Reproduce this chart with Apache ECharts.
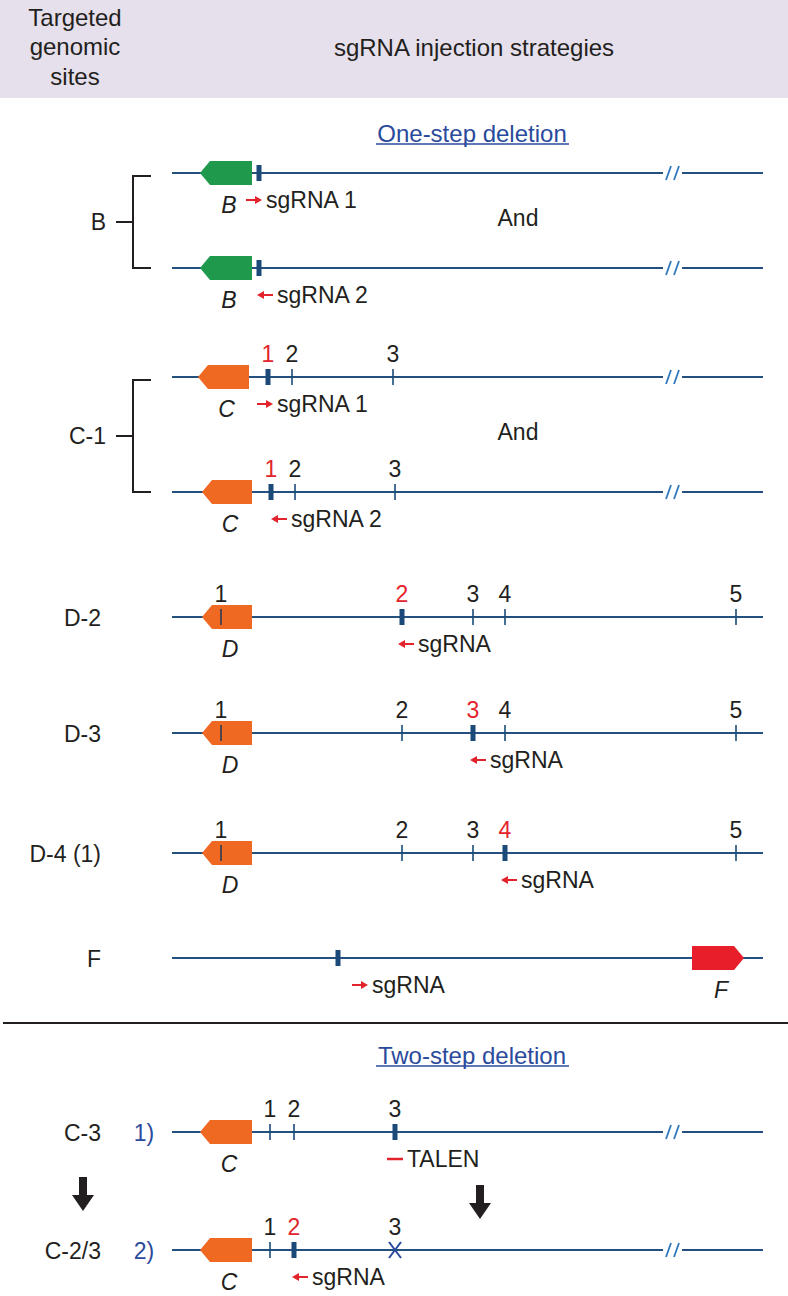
<!DOCTYPE html>
<html><head><meta charset="utf-8">
<script src="https://cdn.jsdelivr.net/npm/echarts@6/dist/echarts.min.js"></script>
<style>html,body{margin:0;padding:0;background:#fff}#c{width:788px;height:1296px}</style>
</head><body><div id="c"></div>
<script>
// ---------- data ----------
const headerLeft = ['Targeted', 'genomic', 'sites'];
const headerRight = 'sgRNA injection strategies';
const sectionTitles = ['One-step deletion', 'Two-step deletion'];
const sectionY = [133, 1055];

const rowY = [173, 268, 377, 492, 617, 733, 853, 958, 1132, 1250];
const rowBreak = [true, true, true, true, false, false, false, false, true, true];
const geneName = ['B', 'B', 'C', 'C', 'D', 'D', 'D', 'F', 'C', 'C'];
const geneLeft = [200, 200, 198, 202, 202, 202, 202, 692, 200, 200];
const geneRight = [252, 252, 249, 252, 252, 252, 252, 744, 252, 252];
const genePointsLeft = [true, true, true, true, true, true, true, false, true, true];
const siteX = [
  [259], [259],
  [268, 292, 393], [271, 295, 395],
  [221, 402, 473, 505, 736], [221, 402, 473, 505, 736], [221, 402, 473, 505, 736],
  [338],
  [270, 294, 395], [270, 294, 395]
];
const siteLabels = [
  [], [],
  ['1', '2', '3'], ['1', '2', '3'],
  ['1', '2', '3', '4', '5'], ['1', '2', '3', '4', '5'], ['1', '2', '3', '4', '5'],
  [],
  ['1', '2', '3'], ['1', '2', '3']
];
const targetIdx = [0, 0, 0, 0, 1, 2, 3, 0, 2, 1];
const targetRed = [true, true, true, true, true, true, true, true, false, true];
const deletedSite = [-1, -1, -1, -1, -1, -1, -1, -1, -1, 2];
const guideText = ['sgRNA 1', 'sgRNA 2', 'sgRNA 1', 'sgRNA 2', 'sgRNA', 'sgRNA', 'sgRNA', 'sgRNA', 'TALEN', 'sgRNA'];
const guideDir = ['right', 'left', 'right', 'left', 'left', 'left', 'left', 'right', 'dash', 'left'];
const guideX = [246, 257, 257, 271, 398, 470, 501, 352, 387, 292];

const groupLabels = ['B', 'C-1', 'D-2', 'D-3', 'D-4 (1)', 'F', 'C-3', 'C-2/3'];
const groupRows = [[0, 1], [2, 3], [4], [5], [6], [7], [8], [9]];
const bracketGroups = [0, 1];
const stepLabels = ['1)', '2)'];
const stepRows = [8, 9];
const andRows = [[0, 1], [2, 3]];

// ---------- styles ----------
const FONT = '"Liberation Sans", Arial, Helvetica, sans-serif';
const C_LINE = '#24507f';
const C_SITE = '#1b4a78';
const C_RED = '#e3232b';
const C_BLUE = '#2a4a9c';
const C_BREAK = '#2f77bd';
const C_TEXT = '#231f20';
const GENE_COLOR = {B: '#1f9a4c', C: '#ef6923', D: '#ef6923', F: '#e81f2a'};
const LINE_START = 172, LINE_END = 763, BREAK_X = 672;

function txt(p, s, opt) {
  return {
    type: 'text',
    style: Object.assign({
      x: p[0], y: p[1], text: s, fill: C_TEXT,
      font: '23px ' + FONT, align: 'center', verticalAlign: 'middle'
    }, opt || {})
  };
}
function seg(a, b, color, w) {
  return {type: 'line', shape: {x1: a[0], y1: a[1], x2: b[0], y2: b[1]},
    style: {stroke: color, lineWidth: w, lineCap: 'butt'}};
}

function renderRow(params, api) {
  const i = params.dataIndex;
  const y = rowY[i];
  const P = (x, yy) => api.coord([x, yy]);
  const ch = [];
  // backbone
  if (rowBreak[i]) {
    ch.push(seg(P(LINE_START, y), P(BREAK_X - 9, y), C_LINE, 2));
    ch.push(seg(P(BREAK_X + 10, y), P(LINE_END, y), C_LINE, 2));
    ch.push(seg(P(BREAK_X - 6, y + 7), P(BREAK_X - 1, y - 7), C_BREAK, 1.8));
    ch.push(seg(P(BREAK_X + 2, y + 7), P(BREAK_X + 7, y - 7), C_BREAK, 1.8));
  } else {
    ch.push(seg(P(LINE_START, y), P(LINE_END, y), C_LINE, 2));
  }
  // gene
  const gl = geneLeft[i], gr = geneRight[i], h = 12, tip = 10;
  let pts;
  if (genePointsLeft[i]) {
    pts = [P(gl, y), P(gl + tip, y - h), P(gr, y - h), P(gr, y + h), P(gl + tip, y + h)];
  } else {
    pts = [P(gl, y - h), P(gr - tip, y - h), P(gr, y), P(gr - tip, y + h), P(gl, y + h)];
  }
  ch.push({type: 'polygon', shape: {points: pts}, style: {fill: GENE_COLOR[geneName[i]]}});
  ch.push(txt(P((gl + gr) / 2 + 3, y + 32), geneName[i], {font: 'italic 23px ' + FONT}));
  // sites
  siteX[i].forEach((sx, k) => {
    const isT = k === targetIdx[i];
    if (k === deletedSite[i]) {
      ch.push(seg(P(sx - 6, y - 8), P(sx + 6, y + 8), C_BLUE, 2));
      ch.push(seg(P(sx + 6, y - 8), P(sx - 6, y + 8), C_BLUE, 2));
    } else if (isT) {
      ch.push(seg(P(sx, y - 8), P(sx, y + 8), C_SITE, 5));
    } else {
      const inGene = sx > gl && sx < gr;
      ch.push(seg(P(sx, y - 8), P(sx, y + 8), inGene ? '#2e3a52' : C_SITE, 1.6));
    }
    if (siteLabels[i][k]) {
      ch.push(txt(P(sx, y - 23), siteLabels[i][k], {fill: isT && targetRed[i] ? C_RED : C_TEXT}));
    }
  });
  // guide annotation
  const gx = guideX[i], gy = y + 27;
  if (guideDir[i] === 'right') {
    ch.push(seg(P(gx, gy), P(gx + 10, gy), C_RED, 2));
    ch.push({type: 'polygon', shape: {points: [P(gx + 16, gy), P(gx + 9, gy - 4), P(gx + 9, gy + 4)]}, style: {fill: C_RED}});
  } else if (guideDir[i] === 'left') {
    ch.push(seg(P(gx + 6, gy), P(gx + 16, gy), C_RED, 2));
    ch.push({type: 'polygon', shape: {points: [P(gx, gy), P(gx + 7, gy - 4), P(gx + 7, gy + 4)]}, style: {fill: C_RED}});
  } else {
    ch.push(seg(P(gx, gy), P(gx + 16, gy), C_RED, 2.5));
  }
  ch.push(txt(P(gx + 20, gy), guideText[i], {align: 'left'}));
  return {type: 'group', children: ch};
}

function renderStatic(params, api) {
  const P = (x, yy) => api.coord([x, yy]);
  const ch = [];
  // header band
  const a = P(0, 0), b = P(788, 98);
  ch.push({type: 'rect', shape: {x: a[0], y: a[1], width: b[0] - a[0], height: b[1] - a[1]}, style: {fill: '#e6e0ec'}});
  headerLeft.forEach((s, k) => ch.push(txt(P(75, 17 + k * 29.5), s, {font: '24px ' + FONT})));
  ch.push(txt(P(474, 47), headerRight, {font: '24px ' + FONT}));
  // section titles
  sectionTitles.forEach((s, k) => {
    ch.push(txt(P(472, sectionY[k]), s, {font: '24px ' + FONT, fill: C_BLUE}));
    ch.push(seg(P(376, sectionY[k] + 11), P(569, sectionY[k] + 11), C_BLUE, 1.5));
  });
  // separator
  ch.push(seg(P(3, 1023), P(788, 1023), C_TEXT, 2));
  // group labels
  groupLabels.forEach((s, k) => {
    const rs = groupRows[k];
    const ym = (rowY[rs[0]] + rowY[rs[rs.length - 1]]) / 2;
    const isBr = bracketGroups.indexOf(k) >= 0;
    ch.push(txt(P(isBr ? 106 : 101, ym + 1), s, {align: 'right'}));
  });
  // brackets
  bracketGroups.forEach(k => {
    const rs = groupRows[k];
    const y0 = rowY[rs[0]] + 3, y1 = rowY[rs[1]];
    const ym = (y0 + y1) / 2;
    ch.push({type: 'polyline', shape: {points: [P(151, y0), P(133, y0), P(133, y1), P(151, y1)]},
      style: {stroke: C_TEXT, lineWidth: 2, fill: null}});
    ch.push(seg(P(116, ym), P(133, ym), C_TEXT, 2));
  });
  // "And"
  andRows.forEach(r => {
    ch.push(txt(P(518, (rowY[r[0]] + rowY[r[1]]) / 2 - 3), 'And'));
  });
  // step labels
  stepLabels.forEach((s, k) => ch.push(txt(P(144, rowY[stepRows[k]] + 1), s, {fill: C_BLUE})));
  // down arrows
  [83, 480].forEach((ax, k) => {
    const top = k === 0 ? 1177 : 1185;
    const pts = [P(ax - 4, top), P(ax + 4, top), P(ax + 4, top + 18), P(ax + 11, top + 18),
      P(ax, top + 34), P(ax - 11, top + 18), P(ax - 4, top + 18)];
    ch.push({type: 'polygon', shape: {points: pts}, style: {fill: C_TEXT}});
  });
  return {type: 'group', children: ch};
}

const chart = echarts.init(document.getElementById('c'), null, {renderer: 'svg'});
chart.setOption({
  animation: false,
  backgroundColor: '#ffffff',
  grid: {left: 0, right: 0, top: 0, bottom: 0, containLabel: false},
  xAxis: {type: 'value', min: 0, max: 788, show: false},
  yAxis: {type: 'value', min: 0, max: 1296, inverse: true, show: false},
  series: [
    {type: 'custom', clip: false, renderItem: renderStatic, data: [[0, 0]], silent: true},
    {type: 'custom', clip: false, renderItem: renderRow, data: rowY.map(y => [LINE_START, y]), silent: true}
  ]
});
</script>
</body></html>
